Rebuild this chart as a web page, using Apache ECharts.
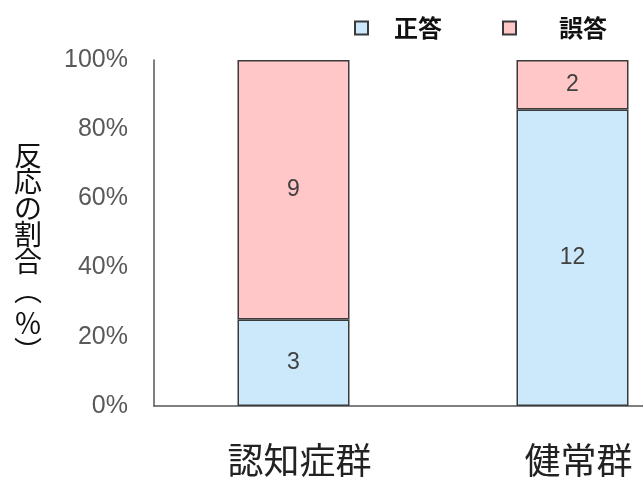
<!DOCTYPE html>
<html>
<head>
<meta charset="utf-8">
<script src="https://cdn.jsdelivr.net/npm/echarts@6/dist/echarts.min.js"></script>
<style>html,body{margin:0;padding:0;background:#fff;overflow:hidden;width:643px;height:478px}#c{width:720px;height:478px}</style>
</head>
<body>
<div id="c"></div>
<script>
var categories = ['認知症群', '健常群'];
var correctCounts = [3, 12];
var wrongCounts = [9, 2];
var yTicks = [0, 20, 40, 60, 80, 100];
var seriesNames = ['正答', '誤答'];
var yTitleMain = '反\n応\nの\n割\n合';
var yTitleUnit = ['︵', '％', '︶'];

function pct(a, b) { return a.map(function (v, i) { return v / (a[i] + b[i]) * 100; }); }
var correctPct = pct(correctCounts, wrongCounts);
var wrongPct = pct(wrongCounts, correctCounts);

var latin = '"Liberation Sans", Arial, "Noto Sans CJK JP", sans-serif';
var jp = '"Noto Sans CJK JP", sans-serif';
var titleFont = '28px "Noto Sans CJK JP", sans-serif';
function tStyle(txt) {
  return { text: txt, font: titleFont, fill: '#111', textAlign: 'center', textVerticalAlign: 'middle', lineHeight: 26.5 };
}
var chart = echarts.init(document.getElementById('c'));
chart.setOption({
  animation: false,
  backgroundColor: '#ffffff',
  grid: { left: 154, top: 60, width: 558, height: 348, containLabel: false },
  graphic: [
    { type: 'text', x: 28, y: 208, style: tStyle(yTitleMain) },
    { type: 'text', x: 28, y: 290, style: tStyle(yTitleUnit[0]) },
    { type: 'text', x: 28, y: 323, style: tStyle(yTitleUnit[1]) },
    { type: 'text', x: 28, y: 351, style: tStyle(yTitleUnit[2]) }
  ],
  legend: [
    { data: [seriesNames[0]], left: 349, top: 11, icon: 'rect', itemWidth: 13, itemHeight: 13,
      textStyle: { fontSize: 24, fontWeight: 'bold', color: '#111', fontFamily: jp, padding: [0, 0, 0, 21] } },
    { data: [seriesNames[1]], left: 497, top: 11, icon: 'rect', itemWidth: 13, itemHeight: 13,
      textStyle: { fontSize: 24, fontWeight: 'bold', color: '#111', fontFamily: jp, padding: [0, 0, 0, 38] } }
  ],
  xAxis: {
    type: 'category',
    data: categories,
    axisLine: { lineStyle: { color: '#555', width: 1.5 } },
    axisTick: { show: false },
    axisLabel: { fontSize: 36, color: '#222', margin: 36, fontFamily: jp, padding: [0, 0, 0, 12] }
  },
  yAxis: {
    type: 'value',
    min: 0, max: 100, interval: 20,
    splitLine: { show: false },
    axisLine: { show: true, lineStyle: { color: '#555', width: 1.5 } },
    axisTick: { show: false },
    axisLabel: {
      fontSize: 25, color: '#595959', margin: 26, fontFamily: latin,
      formatter: function (v) { return yTicks.indexOf(v) >= 0 ? v + '%' : ''; }
    }
  },
  series: [
    {
      name: seriesNames[0], type: 'bar', stack: 'a', barWidth: 112,
      data: correctPct,
      itemStyle: { color: '#cce9fb', borderColor: '#3a3a3a', borderWidth: 1.5 },
      label: { show: true, position: 'inside', fontSize: 23, color: '#404040', fontFamily: latin,
        formatter: function (p) { return correctCounts[p.dataIndex]; } }
    },
    {
      name: seriesNames[1], type: 'bar', stack: 'a', barWidth: 112,
      data: wrongPct,
      itemStyle: { color: '#ffc7c7', borderColor: '#3a3a3a', borderWidth: 1.5 },
      label: { show: true, position: 'inside', fontSize: 23, color: '#404040', fontFamily: latin,
        formatter: function (p) { return wrongCounts[p.dataIndex]; } }
    }
  ]
});
</script>
</body>
</html>
